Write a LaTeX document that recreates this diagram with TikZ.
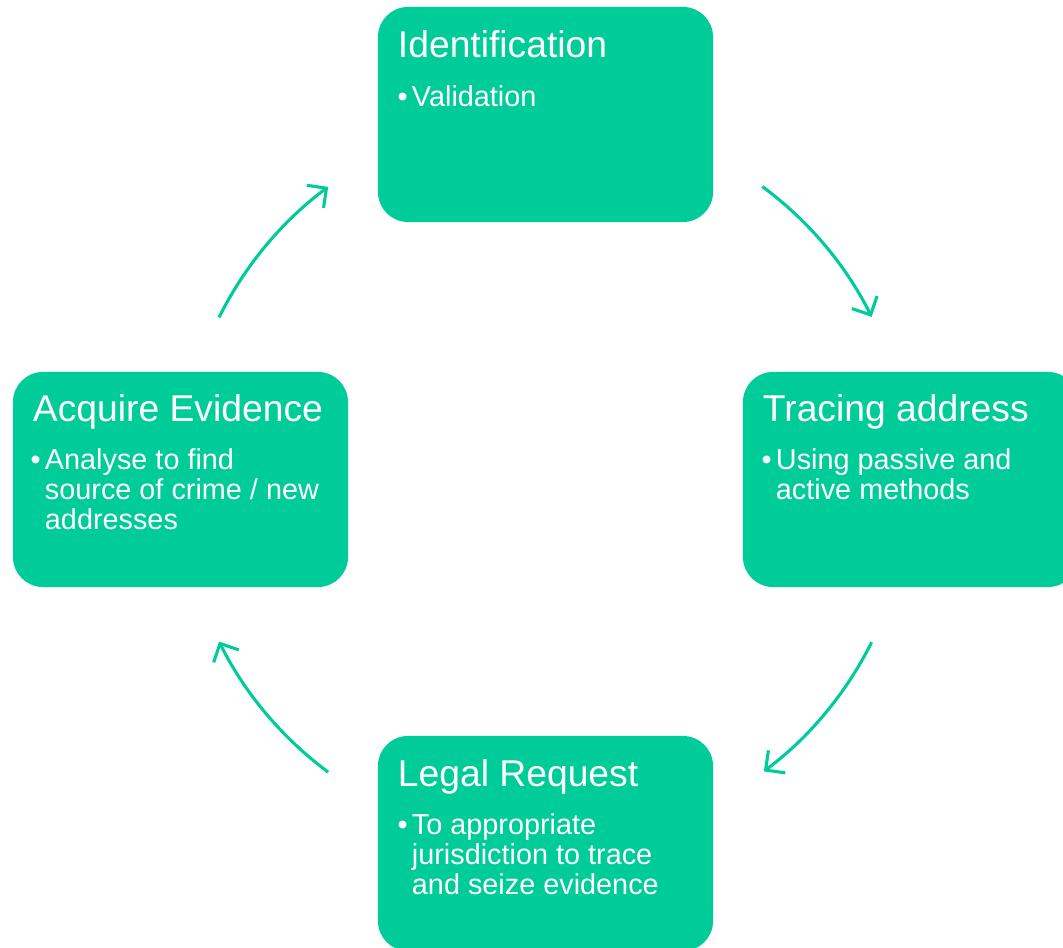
\documentclass[tikz,border=0pt]{standalone}
\usepackage{fontspec}
\setmainfont{Liberation Sans}
\usetikzlibrary{arrows.meta}
\definecolor{leaf}{RGB}{0,204,153}

\begin{document}
\begin{tikzpicture}[x=0.025cm,y=0.025cm,
  stage/.style={fill=leaf,rounded corners=0.75cm,minimum width=8.375cm,minimum height=5.375cm,inner sep=0pt},
  head/.style={text=white,inner sep=0pt,anchor=base west,font=\fontsize{26.5}{30}\selectfont},
  point/.style={text=white,inner sep=0pt,anchor=base west,align=left,font=\fontsize{20.5}{21.3}\selectfont},
  flow/.style={leaf,line width=2.2pt,-{Straight Barb[length=10pt,width=20pt]}}]
\clip (0,0) rectangle (1063,947);
\node[stage] (id) at (545.5,832.5){};
\node[head] (idh) at ([shift={(20,-51)}]id.north west){Identification};
\node[point] (idp) at ([shift={(34,-100)}]id.north west){\llap{•\hspace{3pt}}Validation};
\node[stage] (tr) at (910.5,467.5){};
\node[head] (trh) at ([shift={(20,-50)}]tr.north west){Tracing address};
\node[point] (trp) at ([shift={(33,-128)}]tr.north west){\llap{•\hspace{3pt}}Using passive and\\active methods};
\node[stage] (lr) at (545.5,103.5){};
\node[head] (lrh) at ([shift={(20,-51)}]lr.north west){Legal Request};
\node[point] (lrp) at ([shift={(34,-159)}]lr.north west){\llap{•\hspace{3pt}}To appropriate\\jurisdiction to trace\\and seize evidence};
\node[stage] (ae) at (180.5,467.5){};
\node[head] (aeh) at ([shift={(20,-50)}]ae.north west){Acquire Evidence};
\node[point] (aep) at ([shift={(32,-158)}]ae.north west){\llap{•\hspace{3pt}}Analyse to find\\source of crime / new\\addresses};
% cycle arrows
\coordinate (c) at (545.5,467.5);
\coordinate (a1) at ([shift={(53.5:364.5)}]c);
\coordinate (a2) at ([shift={(-26.5:364.5)}]c);
\coordinate (a3) at ([shift={(233.4:364.5)}]c);
\coordinate (a4) at ([shift={(153.6:364.5)}]c);
\draw[flow](a1)arc[start angle=53.5,end angle=26.5,radius=364.5];
\draw[flow](a2)arc[start angle=-26.5,end angle=-53.2,radius=364.5];
\draw[flow](a3)arc[start angle=233.4,end angle=206.4,radius=364.5];
\draw[flow](a4)arc[start angle=153.6,end angle=126.6,radius=364.5];
\end{tikzpicture}
\end{document}
